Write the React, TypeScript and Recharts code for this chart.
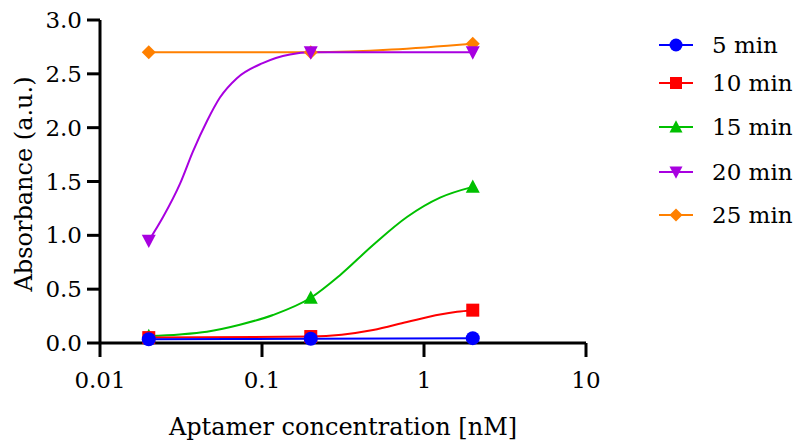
import React from 'react';
import { ComposedChart, Line, XAxis, YAxis } from 'recharts';

// aptamer concentrations (nM) of the measured points
const concentrations = [0.02, 0.2, 2];

// absorbance per incubation time
const abs5 = [0.035, 0.04, 0.045];
const abs10 = [0.05, 0.06, 0.305];
const abs15 = [0.065, 0.42, 1.45];
const abs20 = [0.95, 2.7, 2.7];
const abs25 = [2.7, 2.7, 2.78];

// fitted curves
const fit10Conc = [0.02, 0.2, 0.485, 0.785, 1.256, 1.6, 2];
const fit10Abs = [0.05, 0.06, 0.12, 0.195, 0.265, 0.29, 0.305];
const fit15Conc = [0.02, 0.031, 0.0457, 0.073, 0.117, 0.2, 0.303, 0.485, 0.785, 1.256, 2];
const fit15Abs = [0.065, 0.08, 0.105, 0.17, 0.26, 0.42, 0.63, 0.91, 1.17, 1.35, 1.45];
const fit20Conc = [0.02, 0.0245, 0.0312, 0.0375, 0.0457, 0.055, 0.07, 0.101, 0.149, 0.2, 2];
const fit20Abs = [0.95, 1.17, 1.48, 1.78, 2.06, 2.28, 2.46, 2.6, 2.68, 2.7, 2.7];

const xTicks = [0.01, 0.1, 1, 10];
const yTicks = [0, 0.5, 1, 1.5, 2, 2.5, 3];

const FONT = '"DejaVu Serif", serif';

const toPoints = (xs: number[], ys: number[]) => xs.map((x, i) => ({ x, y: ys[i] }));

type Shape = 'circle' | 'square' | 'triangle' | 'triangleDown' | 'diamond';

const series = [
  { name: '5 min', color: '#0000FF', shape: 'circle' as Shape, points: toPoints(concentrations, abs5), fit: toPoints(concentrations, abs5) },
  { name: '10 min', color: '#FF0000', shape: 'square' as Shape, points: toPoints(concentrations, abs10), fit: toPoints(fit10Conc, fit10Abs) },
  { name: '15 min', color: '#00C000', shape: 'triangle' as Shape, points: toPoints(concentrations, abs15), fit: toPoints(fit15Conc, fit15Abs) },
  { name: '20 min', color: '#A800E0', shape: 'triangleDown' as Shape, points: toPoints(concentrations, abs20), fit: toPoints(fit20Conc, fit20Abs) },
  { name: '25 min', color: '#FF8000', shape: 'diamond' as Shape, points: toPoints(concentrations, abs25), fit: toPoints(concentrations, abs25) },
];

const Marker = ({ cx, cy, shape, color, s = 7 }: { cx: number; cy: number; shape: Shape; color: string; s?: number }) => {
  if (cx == null || cy == null) return null;
  switch (shape) {
    case 'circle':
      return <circle cx={cx} cy={cy} r={s} fill={color} />;
    case 'square':
      return <rect x={cx - s + 0.5} y={cy - s + 0.5} width={2 * s - 1} height={2 * s - 1} fill={color} />;
    case 'triangle':
      return <polygon points={`${cx - s},${cy + s * 0.85} ${cx + s},${cy + s * 0.85} ${cx},${cy - s * 1.05}`} fill={color} />;
    case 'triangleDown':
      return <polygon points={`${cx - s},${cy - s * 0.85} ${cx + s},${cy - s * 0.85} ${cx},${cy + s * 1.05}`} fill={color} />;
    case 'diamond':
      return <polygon points={`${cx},${cy - s} ${cx + s},${cy} ${cx},${cy + s} ${cx - s},${cy}`} fill={color} />;
  }
  return null;
};

const legendY = [45, 83, 127, 172, 215];

const Legend = () => (
  <svg width={797} height={443} style={{ position: 'absolute', left: 0, top: 0, pointerEvents: 'none' }}>
    {series.map((s, i) => (
      <g key={s.name}>
        <line x1={659} x2={693} y1={legendY[i]} y2={legendY[i]} stroke={s.color} strokeWidth={2} />
        <Marker cx={676} cy={legendY[i]} shape={s.shape} color={s.color} s={6.5} />
        <text x={712} y={legendY[i] + 8} fontFamily={FONT} fontSize={23} fill="#000">
          {s.name}
        </text>
      </g>
    ))}
  </svg>
);

export default function App() {
  const drawOrder = [...series].reverse();
  return (
    <div style={{ position: 'absolute', left: 0, top: 0, width: 797, height: 443, background: '#fff' }}>
      <ComposedChart width={797} height={443} margin={{ top: 20, right: 211, bottom: 0, left: 0 }}>
        <XAxis
          type="number"
          dataKey="x"
          scale="log"
          domain={[0.01, 10]}
          ticks={xTicks}
          allowDataOverflow
          height={100}
          tickSize={14}
          tickMargin={15}
          axisLine={{ stroke: '#000', strokeWidth: 3 }}
          tickLine={{ stroke: '#000', strokeWidth: 3 }}
          tick={{ fill: '#000', fontSize: 23, fontFamily: FONT }}
          tickFormatter={(v: number) => String(v)}
          label={{
            content: () => (
              <text x={343} y={435} textAnchor="middle" fontFamily={FONT} fontSize={24} fill="#000">
                Aptamer concentration [nM]
              </text>
            ),
          }}
        />
        <YAxis
          type="number"
          dataKey="y"
          domain={[0, 3]}
          ticks={yTicks}
          width={100}
          tickSize={13}
          tickMargin={5}
          axisLine={{ stroke: '#000', strokeWidth: 3 }}
          tickLine={{ stroke: '#000', strokeWidth: 3 }}
          tick={{ fill: '#000', fontSize: 23, fontFamily: FONT }}
          tickFormatter={(v: number) => v.toFixed(1)}
          label={{
            content: () => (
              <text x={32} y={184} transform="rotate(-90 32 184)" textAnchor="middle" fontFamily={FONT} fontSize={24} fill="#000">
                Absorbance (a.u.)
              </text>
            ),
          }}
        />
        {drawOrder.map((s) => (
          <Line
            key={`fit-${s.name}`}
            data={s.fit}
            dataKey="y"
            type="monotone"
            stroke={s.color}
            strokeWidth={2}
            dot={false}
            activeDot={false}
            legendType="none"
            isAnimationActive={false}
          />
        ))}
        {drawOrder.map((s) => (
          <Line
            key={`pts-${s.name}`}
            data={s.points}
            dataKey="y"
            stroke="none"
            dot={(p: any) => <Marker key={`${s.name}-${p.index}`} cx={p.cx} cy={p.cy} shape={s.shape} color={s.color} />}
            activeDot={false}
            legendType="none"
            isAnimationActive={false}
          />
        ))}
      </ComposedChart>
      <Legend />
    </div>
  );
}
